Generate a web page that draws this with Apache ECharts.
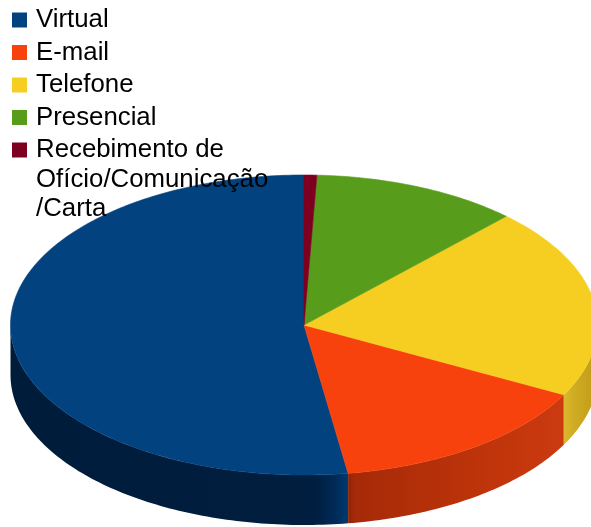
<!DOCTYPE html>
<html>
<head>
<meta charset="utf-8">
<script src="https://cdn.jsdelivr.net/npm/echarts@6/dist/echarts.min.js"></script>
<style>
  html, body { margin: 0; padding: 0; background: #fff; }
  #main { width: 591px; height: 527px; }
</style>
</head>
<body>
<div id="main"></div>
<script>
// dados (percentuais)
var categories = ['Virtual', 'E-mail', 'Telefone', 'Presencial', 'Recebimento de\nOfício/Comunicação\n/Carta'];
var values = [52.4, 14.9, 20.6, 11.4, 0.7];

// cores
var topColors = ['#02427f', '#f8420e', '#f6ce22', '#589c1c', '#7e0021'];
var sideColors = [
  [{offset: 0, color: '#001c3b'}, {offset: 0.9, color: '#001e3f'}, {offset: 0.96, color: '#002a56'}, {offset: 1, color: '#003a70'}],
  [{offset: 0, color: '#8e2406'}, {offset: 0.03, color: '#a62a08'}, {offset: 0.5, color: '#b93209'}, {offset: 1, color: '#cc3a10'}],
  [{offset: 0, color: '#dcb82e'}, {offset: 0.3, color: '#d0ac22'}, {offset: 1, color: '#c09a18'}],
  [{offset: 0, color: '#3a6a12'}, {offset: 1, color: '#3a6a12'}],
  [{offset: 0, color: '#540016'}, {offset: 1, color: '#540016'}]
];

var font = 'Liberation Sans';
var fontSize = 25.8;
var cx = 304, cy = 325, rx = 293.5, ry = 150, depth = 50;

var chart = echarts.init(document.getElementById('main'));

var total = 0;
values.forEach(function (v) { total += v; });

// ponto da elipse; t a partir das 12h, sentido anti-horário
function pt(t, dy) {
  return [cx - rx * Math.sin(t), cy - ry * Math.cos(t) + (dy || 0)];
}
function arc(t0, t1, dy) {
  var pts = [];
  var n = Math.max(2, Math.ceil((t1 - t0) / (Math.PI / 180)));
  for (var i = 0; i <= n; i++) pts.push(pt(t0 + (t1 - t0) * i / n, dy));
  return pts;
}

function renderSlice(idx) {
  return function (params, api) {
    var start = 0;
    for (var i = 0; i < idx; i++) start += values[i];
    var t0 = start / total * 2 * Math.PI;
    var t1 = (start + api.value(0)) / total * 2 * Math.PI;
    var children = [];
    // lateral visível (metade da frente)
    var a = Math.max(t0, Math.PI / 2), b = Math.min(t1, 3 * Math.PI / 2);
    if (b > a) {
      var upper = arc(a, b, 0);
      var lower = arc(a, b, depth).reverse();
      children.push({
        type: 'polygon',
        z2: 1,
        shape: {points: upper.concat(lower)},
        style: {fill: new echarts.graphic.LinearGradient(0, 0, 1, 0, sideColors[idx])}
      });
    }
    children.push({
      type: 'polygon',
      z2: 10,
      shape: {points: [[cx, cy]].concat(arc(t0, t1, 0))},
      style: {fill: topColors[idx], stroke: topColors[idx], lineWidth: 0.6}
    });
    return {type: 'group', children: children};
  };
}

var series = categories.map(function (name, i) {
  return {
    type: 'custom',
    name: name,
    coordinateSystem: 'none',
    silent: true,
    animation: false,
    itemStyle: {color: topColors[i]},
    renderItem: renderSlice(i),
    data: [values[i]]
  };
});

var lastLines = categories[categories.length - 1].split('\n');

var option = {
  backgroundColor: '#fff',
  animation: false,
  legend: {
    orient: 'vertical',
    left: 12,
    top: 5.25,
    padding: 0,
    itemWidth: 15,
    itemHeight: 15,
    itemGap: 3,
    icon: 'rect',
    selectedMode: false,
    data: categories,
    formatter: function (name) { return name.split('\n')[0]; },
    textStyle: {
      fontFamily: font,
      fontSize: fontSize,
      lineHeight: 29.5,
      color: '#000',
      padding: [0, 0, 0, 4]
    }
  },
  graphic: [{
    type: 'text',
    left: 36,
    top: 164.75,
    z: 100,
    silent: true,
    style: {
      text: lastLines.slice(1).join('\n'),
      font: fontSize + 'px "Liberation Sans"',
      lineHeight: 29.5,
      fill: '#000'
    }
  }],
  series: series
};

chart.setOption(option);
</script>
</body>
</html>
